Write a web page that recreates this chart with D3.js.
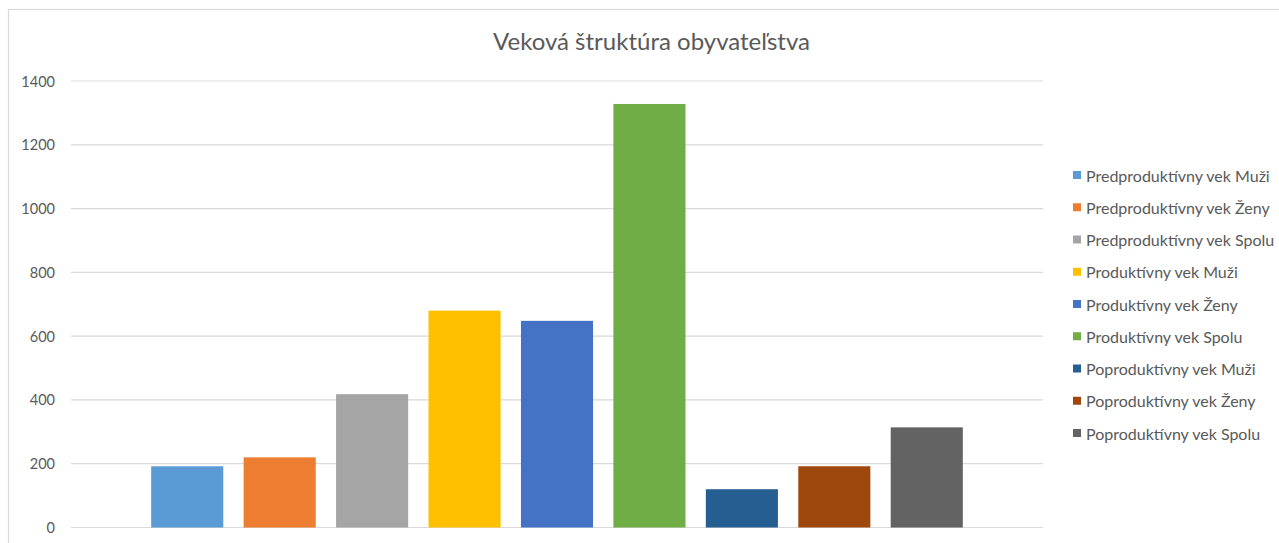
<!DOCTYPE html>
<html>
<head>
<meta charset="utf-8">
<script src="https://cdn.jsdelivr.net/npm/d3@7"></script>
<style>
    body { margin: 0; background: #fff; }
    text { font-family: Lato, "Open Sans", sans-serif; fill: #595959; }
    .grid line { stroke: #d9d9d9; stroke-width: 1.2; }
</style>
</head>
<body>
<svg id="chart"></svg>
<script>
const chartTitle = "Veková štruktúra obyvateľstva";
const seriesNames = [
    "Predproduktívny vek Muži",
    "Predproduktívny vek Ženy",
    "Predproduktívny vek Spolu",
    "Produktívny vek Muži",
    "Produktívny vek Ženy",
    "Produktívny vek Spolu",
    "Poproduktívny vek Muži",
    "Poproduktívny vek Ženy",
    "Poproduktívny vek Spolu"
];
const seriesValues = [192, 220, 418, 680, 648, 1328, 120, 192, 314];
const seriesColors = ["#5b9bd5", "#ed7d31", "#a5a5a5", "#ffc000", "#4472c4", "#70ad47", "#255e91", "#9e480e", "#636363"];
const yTicks = [0, 200, 400, 600, 800, 1000, 1200, 1400];

const W = 1279, H = 543;
const plot = { left: 71, right: 1043, top: 81, bottom: 527.5 };

const svg = d3.select("#chart")
    .attr("width", W)
    .attr("height", H);

// chart frame (bottom and right run off the page)
svg.append("rect")
    .attr("x", 8.5)
    .attr("y", 9.5)
    .attr("width", W + 10)
    .attr("height", H + 10)
    .attr("fill", "none")
    .attr("stroke", "#d9d9d9")
    .attr("stroke-width", 1.2);

const y = d3.scaleLinear()
    .domain([0, 1400])
    .range([plot.bottom, plot.top]);

// one category, bars for each series side by side
const x0 = d3.scaleBand()
    .domain([""])
    .range([plot.left, plot.right])
    .paddingOuter(0.0988);

const x1 = d3.scaleBand()
    .domain(seriesNames)
    .range([0, x0.bandwidth()])
    .paddingInner(0.22)
    .paddingOuter(0);

// gridlines
svg.append("g")
    .attr("class", "grid")
    .selectAll("line")
    .data(yTicks)
    .join("line")
    .attr("x1", plot.left)
    .attr("x2", plot.right)
    .attr("y1", d => y(d))
    .attr("y2", d => y(d));

// y labels
svg.append("g")
    .selectAll("text")
    .data(yTicks)
    .join("text")
    .attr("x", 55)
    .attr("y", d => y(d))
    .attr("text-anchor", "end")
    .attr("dominant-baseline", "central")
    .attr("font-size", 14.5)
    .text(d => d);

// bars
svg.append("g")
    .attr("transform", `translate(${x0("")},0)`)
    .selectAll("rect")
    .data(seriesValues)
    .join("rect")
    .attr("x", (d, i) => x1(seriesNames[i]))
    .attr("width", x1.bandwidth())
    .attr("y", d => y(d))
    .attr("height", d => y(0) - y(d))
    .attr("fill", (d, i) => seriesColors[i]);

// title
svg.append("text")
    .attr("x", 651.5)
    .attr("y", 50)
    .attr("text-anchor", "middle")
    .attr("font-size", 24)
    .text(chartTitle);

// legend
const legend = svg.append("g")
    .selectAll("g")
    .data(seriesNames)
    .join("g")
    .attr("transform", (d, i) => `translate(1073,${175 + i * 32.25})`);

legend.append("rect")
    .attr("x", 0)
    .attr("y", -4)
    .attr("width", 8)
    .attr("height", 8)
    .attr("fill", (d, i) => seriesColors[i]);

legend.append("text")
    .attr("x", 13)
    .attr("y", 0)
    .attr("dominant-baseline", "central")
    .attr("font-size", 16)
    .text(d => d);
</script>
</body>
</html>
